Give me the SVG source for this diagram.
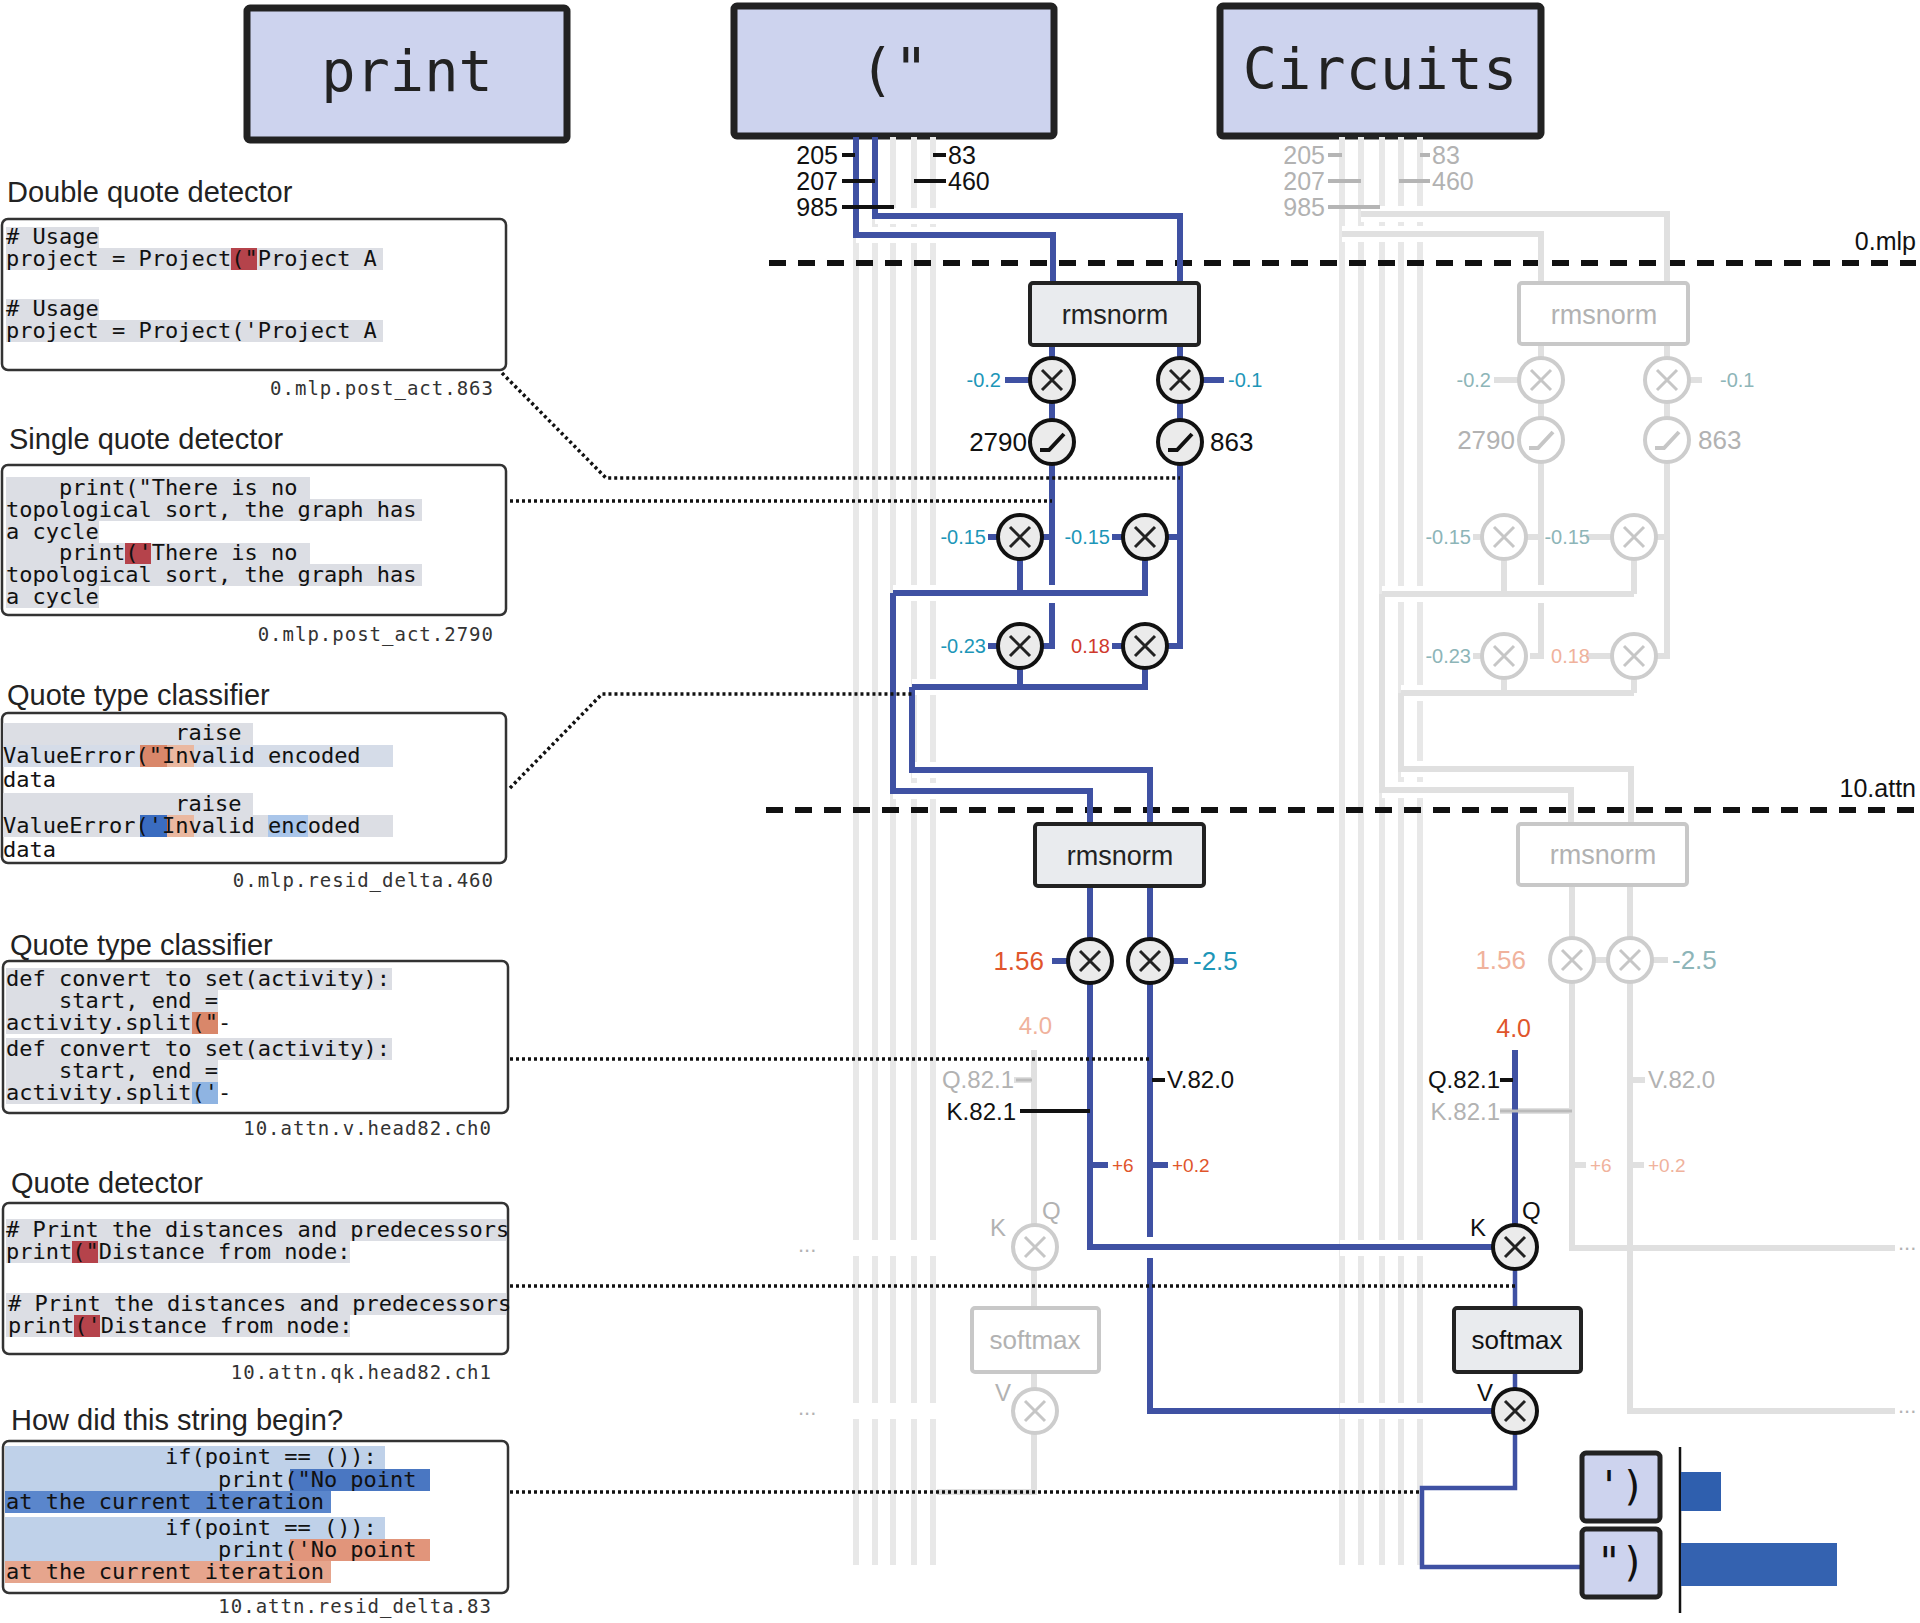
<svg xmlns="http://www.w3.org/2000/svg" width="1920" height="1623" viewBox="0 0 1920 1623">
<style>
.t{font-family:"Liberation Sans",Arial,sans-serif}
.m{font-family:"DejaVu Sans Mono","Liberation Mono",monospace}
.tt{font-family:"Liberation Sans",Arial,sans-serif;font-size:29px;fill:#222}
.code{font-family:"DejaVu Sans Mono",monospace;font-size:22px;fill:#111;white-space:pre}
.lab{font-family:"DejaVu Sans Mono",monospace;font-size:19px;fill:#333;text-anchor:end;letter-spacing:1px}
.panel{fill:#fff;stroke:#333;stroke-width:2.5}
.hg{fill:#dcdee4}
.bun{stroke:#e8e8e8;stroke-width:6;fill:none}
.blue{stroke:#3f51a3;stroke-width:6;fill:none}
.bt{stroke:#3f51a3;stroke-width:4.5;fill:none}
.gr{stroke:#e0e0e0;stroke-width:6;fill:none}
.halo{stroke:#fff;stroke-width:16;fill:none}
.dot{stroke:#111;stroke-width:3.5;stroke-dasharray:3 3;fill:none}
.dash{stroke:#111;stroke-width:6;stroke-dasharray:17 12;fill:none}
.node{fill:#ebebeb;stroke:#111;stroke-width:4}
.nodef{fill:#fff;stroke:#cdcdcd;stroke-width:4}
.x{stroke:#222;stroke-width:3;fill:none}
.xf{stroke:#c6c6c6;stroke-width:3;fill:none}
.box{fill:#e9ebee;stroke:#222;stroke-width:4}
.boxf{fill:#fff;stroke:#c8c8c8;stroke-width:4}
.top{fill:#cdd3ee;stroke:#222;stroke-width:7}
.teal{fill:#1d96b8}.org{fill:#e0552b}.red{fill:#cf3a2c}
.fteal{fill:#8db5b8}.forg{fill:#f0b29c}.fg{fill:#b2b2b2}
</style>

<!-- top token boxes -->
<g id="tok-print"><rect class="top" x="247" y="8" width="320" height="132" rx="3"/><text class="m" x="407" y="91" font-size="57" text-anchor="middle" fill="#222">print</text></g>
<g id="tok-quote"><rect class="top" x="734" y="6" width="320" height="130" rx="3"/><text class="m" x="894" y="89" font-size="57" text-anchor="middle" fill="#222">("</text></g>
<g id="tok-circuits"><rect class="top" x="1220" y="6" width="321" height="130" rx="3"/><text class="m" x="1380" y="89" font-size="57" text-anchor="middle" fill="#222">Circuits</text></g>

<!-- left panels -->
<g id="panel1">
<text class="tt" x="7" y="202">Double quote detector</text>
<rect class="panel" x="2" y="219" width="504" height="151" rx="6"/>
<rect class="hg" x="6" y="227" width="93" height="21"/><rect class="hg" x="6" y="248" width="377" height="22"/>
<rect fill="#b5434b" x="231" y="248" width="26" height="22"/>
<rect class="hg" x="6" y="299" width="93" height="21"/><rect class="hg" x="6" y="320" width="377" height="22"/>
<text class="code" x="6" y="244"># Usage</text><text class="code" x="6" y="266">project = Project("Project A</text>
<text class="code" x="6" y="316"># Usage</text><text class="code" x="6" y="338">project = Project('Project A</text>
<text class="lab" x="494" y="395">0.mlp.post_act.863</text>
</g>
<g id="panel2">
<text class="tt" x="9" y="449">Single quote detector</text>
<rect class="panel" x="2" y="465" width="504" height="150" rx="6"/>
<rect class="hg" x="6" y="477" width="304" height="22"/><rect class="hg" x="6" y="499" width="416" height="22"/><rect class="hg" x="6" y="521" width="93" height="22"/>
<rect class="hg" x="6" y="543" width="304" height="21"/><rect class="hg" x="6" y="564" width="416" height="22"/><rect class="hg" x="6" y="586" width="93" height="22"/>
<rect fill="#b5434b" x="125" y="543" width="26" height="21"/>
<text class="code" x="6" y="495">    print("There is no</text><text class="code" x="6" y="517">topological sort, the graph has</text><text class="code" x="6" y="539">a cycle</text>
<text class="code" x="6" y="560">    print('There is no</text><text class="code" x="6" y="582">topological sort, the graph has</text><text class="code" x="6" y="604">a cycle</text>
<text class="lab" x="494" y="641">0.mlp.post_act.2790</text>
</g>
<g id="panel3">
<text class="tt" x="7" y="705">Quote type classifier</text>
<rect class="panel" x="2" y="713" width="504" height="150" rx="6"/>
<rect class="hg" x="3" y="723" width="250" height="22"/><rect fill="#d5dce8" x="3" y="745" width="390" height="22"/>
<rect fill="#d9876a" x="140" y="745" width="27" height="22"/><rect fill="#eab8a0" x="167" y="745" width="27" height="22"/>
<rect class="hg" x="3" y="793" width="250" height="22"/><rect class="hg" x="3" y="815" width="390" height="22"/>
<rect fill="#3a6cc0" x="140" y="815" width="27" height="22"/><rect fill="#eab8a0" x="167" y="815" width="27" height="22"/><rect fill="#aac6ea" x="268" y="815" width="40" height="22"/>
<text class="code" x="3" y="740">             raise</text><text class="code" x="3" y="763">ValueError("Invalid encoded</text><text class="code" x="3" y="787">data</text>
<text class="code" x="3" y="811">             raise</text><text class="code" x="3" y="833">ValueError('Invalid encoded</text><text class="code" x="3" y="857">data</text>
<text class="lab" x="494" y="887">0.mlp.resid_delta.460</text>
</g>
<g id="panel4">
<text class="tt" x="10" y="955">Quote type classifier</text>
<rect class="panel" x="3" y="961" width="505" height="152" rx="6"/>
<rect class="hg" x="6" y="968" width="386" height="22"/><rect class="hg" x="6" y="990" width="212" height="22"/><rect class="hg" x="6" y="1012" width="212" height="22"/>
<rect fill="#d9876a" x="192" y="1012" width="26" height="22"/>
<rect class="hg" x="6" y="1038" width="386" height="22"/><rect class="hg" x="6" y="1060" width="212" height="22"/><rect class="hg" x="6" y="1082" width="212" height="22"/>
<rect fill="#8fb4e2" x="192" y="1082" width="26" height="22"/>
<text class="code" x="6" y="986">def convert to set(activity):</text><text class="code" x="6" y="1008">    start, end =</text><text class="code" x="6" y="1030">activity.split("-</text>
<text class="code" x="6" y="1056">def convert to set(activity):</text><text class="code" x="6" y="1078">    start, end =</text><text class="code" x="6" y="1100">activity.split('-</text>
<text class="lab" x="492" y="1135">10.attn.v.head82.ch0</text>
</g>
<g id="panel5">
<text class="tt" x="11" y="1193">Quote detector</text>
<rect class="panel" x="3" y="1203" width="505" height="151" rx="6"/>
<rect class="hg" x="6" y="1219" width="500" height="22"/><rect class="hg" x="6" y="1241" width="344" height="22"/>
<rect class="hg" x="6" y="1293" width="500" height="22"/><rect class="hg" x="6" y="1315" width="344" height="22"/>
<rect fill="#b5434b" x="72" y="1241" width="26" height="22"/><rect fill="#b5434b" x="74" y="1315" width="26" height="22"/>
<text class="code" x="6" y="1237"># Print the distances and predecessors</text><text class="code" x="6" y="1259">print("Distance from node:</text>
<text class="code" x="8" y="1311"># Print the distances and predecessors</text><text class="code" x="8" y="1333">print('Distance from node:</text>
<text class="lab" x="492" y="1379">10.attn.qk.head82.ch1</text>
</g>
<g id="panel6">
<text class="tt" x="11" y="1430">How did this string begin?</text>
<rect class="panel" x="3" y="1441" width="505" height="152" rx="6"/>
<rect fill="#bfd1e9" x="5" y="1446" width="380" height="23"/><rect fill="#bfd1e9" x="5" y="1469" width="286" height="22"/>
<rect fill="#4a77c2" x="290" y="1469" width="140" height="22"/><rect fill="#5a86cc" x="5" y="1491" width="326" height="22"/>
<rect fill="#bfd1e9" x="5" y="1517" width="380" height="22"/><rect fill="#bfd1e9" x="5" y="1539" width="286" height="22"/>
<rect fill="#e1957b" x="290" y="1539" width="140" height="22"/><rect fill="#e6a58d" x="5" y="1561" width="326" height="22"/>
<text class="code" x="6" y="1464">            if(point == ()):</text><text class="code" x="6" y="1487">                print("No point</text><text class="code" x="6" y="1509">at the current iteration</text>
<text class="code" x="6" y="1535">            if(point == ()):</text><text class="code" x="6" y="1557">                print('No point</text><text class="code" x="6" y="1579">at the current iteration</text>
<text class="lab" x="492" y="1613">10.attn.resid_delta.83</text>
</g>

<!-- connectors -->
<g id="connectors">
<path class="bun" d="M856 137V1565M875 137V1565M893 137V1565M914 137V1565M933 137V1565"/>
<path class="bun" d="M1342 137V1565M1361 137V1565M1382 137V1565M1401 137V1565M1420 137V1565"/>
<path class="dash" d="M769 263H1916M766 810H1916"/>
<text class="t" x="1916" y="250" font-size="25" text-anchor="end" fill="#111">0.mlp</text>
<text class="t" x="1916" y="797" font-size="25" text-anchor="end" fill="#111">10.attn</text>

<!-- faded circuit -->
<path class="halo" d="M1361 214H1667M1342 234H1541M1382 594H1634M1401 693H1634M1401 769H1631M1382 790H1571M1340 1248H1560M1340 1411H1560"/>
<path class="gr" d="M1342 234H1541V283M1361 214H1667V283"/>
<path class="gr" d="M1541 344V585M1541 603V656H1530M1667 344V656H1657M1527 537H1541M1657 537H1667"/>
<path class="gr" d="M1504 560V594M1634 560V594M1382 594H1634M1382 594V790H1571V824"/>
<path class="gr" d="M1504 679V693M1634 679V693M1401 693H1634M1401 693V769H1631V824"/>
<path class="gr" d="M1572 885V1248H1895M1630 885V1411H1895M1500 1111H1572M1632 1080H1645M1572 1165H1586M1630 1165H1644M1608 960H1594M1652 960H1668"/>
<path class="gr" d="M1034 1050V1225M1034 1269V1308M1034 1372V1389M1034 1433V1492H937M824 1248H1013M824 1411H1013M1014 1080H1034"/>
<path class="gr" d="M1494 380H1519M1689 380H1702M1473 537H1482M1586 537H1612M1473 656H1482M1586 656H1612"/>
<g class="t fg" font-size="25"><text x="1325" y="164" text-anchor="end">205</text><text x="1325" y="190" text-anchor="end">207</text><text x="1325" y="216" text-anchor="end">985</text><text x="1432" y="164">83</text><text x="1432" y="190">460</text></g>
<path stroke="#b5b5b5" stroke-width="4" d="M1328 155H1342M1328 181H1361M1328 207H1380M1420 155H1430M1399 181H1430"/>

<!-- main blue circuit -->
<path class="halo" d="M856 235H1053M875 216H1180M893 593H1146M912 687H1145M912 770H1150M893 791H1090M820 1248H1013M820 1411H1013"/>
<path class="blue" d="M856 137V235H1053V283M875 137V216H1180V283"/>
<path class="blue" d="M1052 345V585M1052 603V646H1041M1180 345V646H1167M1041 537H1052M1167 537H1180"/>
<path class="blue" d="M1020 560V593M1145 560V593M893 593H1148M893 593V791H1090V824"/>
<path class="blue" d="M1020 669V687M1145 669V687M912 687H1148M912 687V770H1150V824"/>
<path class="blue" d="M1005 380H1029M1203 380H1224M988 537H998M1112 537H1123M988 646H998M1112 646H1123"/>
<path class="blue" d="M1090 886V1247H1493M1150 886V1237M1150 1258V1411H1493M1052 961H1067M1173 961H1188M1090 1165H1108M1150 1165H1168"/>
<path class="blue" d="M1515 1050V1225"/>
<path class="bt" d="M1515 1269V1308M1515 1372V1389M1515 1433V1488H1422V1567H1584"/>
<path stroke="#111" stroke-width="4" d="M842 155H855M842 181H875M842 207H894M933 155H946M914 181H946M1020 1111H1090M1152 1080H1165M1500 1080H1513"/>
<path stroke="#bbb" stroke-width="3" d="M1500 1111H1572M1016 1080H1032"/>

<path class="dot" d="M502 373L606 478H1180M510 501H1052M510 788L602 694H912M510 1059H1150M510 1286H1515M510 1492H1420"/>
<text class="t fg" x="798" y="1252" font-size="22">...</text><text class="t fg" x="798" y="1415" font-size="22">...</text>
<text class="t fg" x="1898" y="1250" font-size="22">...</text><text class="t fg" x="1898" y="1413" font-size="22">...</text>
</g>

<g id="labels-top" class="t" font-size="25" fill="#111"><text x="838" y="164" text-anchor="end">205</text><text x="838" y="190" text-anchor="end">207</text><text x="838" y="216" text-anchor="end">985</text><text x="948" y="164">83</text><text x="948" y="190">460</text></g>

<!-- main nodes -->
<g id="rmsnorm1"><rect class="box" x="1030" y="283" width="169" height="62" rx="3"/><text class="t" x="1115" y="324" font-size="27" text-anchor="middle" fill="#222">rmsnorm</text></g>
<g id="m1"><circle class="node" cx="1052" cy="380" r="22"/><path class="x" d="M1042 370L1062 390M1062 370L1042 390"/><text class="t teal" x="1001" y="387" font-size="20" text-anchor="end">-0.2</text></g>
<g id="m2"><circle class="node" cx="1180" cy="380" r="22"/><path class="x" d="M1170 370L1190 390M1190 370L1170 390"/><text class="t teal" x="1228" y="387" font-size="20">-0.1</text></g>
<g id="relu2790"><circle class="node" cx="1052" cy="442" r="22"/><path stroke="#111" stroke-width="4" fill="none" d="M1040 450H1049L1064 434"/><text class="t" x="1027" y="451" font-size="26" text-anchor="end" fill="#111">2790</text></g>
<g id="relu863"><circle class="node" cx="1180" cy="442" r="22"/><path stroke="#111" stroke-width="4" fill="none" d="M1168 450H1177L1192 434"/><text class="t" x="1210" y="451" font-size="26" fill="#111">863</text></g>
<g id="m3"><circle class="node" cx="1020" cy="537" r="22"/><path class="x" d="M1010 527L1030 547M1030 527L1010 547"/><text class="t teal" x="986" y="544" font-size="20" text-anchor="end">-0.15</text></g>
<g id="m4"><circle class="node" cx="1145" cy="537" r="22"/><path class="x" d="M1135 527L1155 547M1155 527L1135 547"/><text class="t teal" x="1110" y="544" font-size="20" text-anchor="end">-0.15</text></g>
<g id="m5"><circle class="node" cx="1020" cy="646" r="22"/><path class="x" d="M1010 636L1030 656M1030 636L1010 656"/><text class="t teal" x="986" y="653" font-size="20" text-anchor="end">-0.23</text></g>
<g id="m6"><circle class="node" cx="1145" cy="646" r="22"/><path class="x" d="M1135 636L1155 656M1155 636L1135 656"/><text class="t red" x="1110" y="653" font-size="20" text-anchor="end">0.18</text></g>

<g id="rmsnorm2"><rect class="box" x="1035" y="824" width="169" height="62" rx="3"/><text class="t" x="1120" y="865" font-size="27" text-anchor="middle" fill="#222">rmsnorm</text></g>
<g id="m7"><circle class="node" cx="1090" cy="961" r="22"/><path class="x" d="M1080 951L1100 971M1100 951L1080 971"/><text class="t org" x="1044" y="970" font-size="26" text-anchor="end">1.56</text></g>
<g id="m8"><circle class="node" cx="1150" cy="961" r="22"/><path class="x" d="M1140 951L1160 971M1160 951L1140 971"/><text class="t teal" x="1193" y="970" font-size="26">-2.5</text></g>
<g id="attn-labels" class="t" font-size="24">
<text class="forg" x="1052" y="1034" text-anchor="end">4.0</text>
<text class="fg" x="1014" y="1088" text-anchor="end">Q.82.1</text>
<text fill="#111" x="1016" y="1120" text-anchor="end">K.82.1</text>
<text fill="#111" x="1167" y="1088">V.82.0</text>
<text class="org" x="1112" y="1172" font-size="19">+6</text>
<text class="org" x="1172" y="1172" font-size="19">+0.2</text>
<text class="org" x="1531" y="1037" text-anchor="end" font-size="25">4.0</text>
<text fill="#111" x="1500" y="1088" text-anchor="end">Q.82.1</text>
<text class="fg" x="1500" y="1120" text-anchor="end">K.82.1</text>
</g>
<g id="qk-faded"><circle class="nodef" cx="1035" cy="1247" r="22"/><path class="xf" d="M1025 1237L1045 1257M1045 1237L1025 1257"/><text class="t fg" x="990" y="1236" font-size="24">K</text><text class="t fg" x="1042" y="1219" font-size="24">Q</text></g>
<g id="softmax-faded"><rect class="boxf" x="972" y="1308" width="127" height="64" rx="3"/><text class="t fg" x="1035" y="1349" font-size="26" text-anchor="middle">softmax</text></g>
<g id="v-faded"><circle class="nodef" cx="1035" cy="1411" r="22"/><path class="xf" d="M1025 1401L1045 1421M1045 1401L1025 1421"/><text class="t fg" x="995" y="1401" font-size="24">V</text></g>
<g id="qk"><circle class="node" cx="1515" cy="1247" r="22"/><path class="x" d="M1505 1237L1525 1257M1525 1237L1505 1257"/><text class="t" x="1470" y="1236" font-size="24" fill="#111">K</text><text class="t" x="1522" y="1219" font-size="24" fill="#111">Q</text></g>
<g id="softmax"><rect class="box" x="1454" y="1308" width="127" height="64" rx="3"/><text class="t" x="1517" y="1349" font-size="26" text-anchor="middle" fill="#111">softmax</text></g>
<g id="v"><circle class="node" cx="1515" cy="1411" r="22"/><path class="x" d="M1505 1401L1525 1421M1525 1401L1505 1421"/><text class="t" x="1477" y="1401" font-size="24" fill="#111">V</text></g>

<!-- faded nodes -->
<g id="rmsnorm1-f"><rect class="boxf" x="1519" y="283" width="169" height="61" rx="3"/><text class="t fg" x="1604" y="324" font-size="27" text-anchor="middle">rmsnorm</text></g>
<g id="f-m1"><circle class="nodef" cx="1541" cy="380" r="22"/><path class="xf" d="M1531 370L1551 390M1551 370L1531 390"/><text class="t fteal" x="1491" y="387" font-size="20" text-anchor="end">-0.2</text></g>
<g id="f-m2"><circle class="nodef" cx="1667" cy="380" r="22"/><path class="xf" d="M1657 370L1677 390M1677 370L1657 390"/><text class="t fteal" x="1720" y="387" font-size="20">-0.1</text></g>
<g id="f-relu1"><circle class="nodef" cx="1541" cy="440" r="22"/><path stroke="#c6c6c6" stroke-width="4" fill="none" d="M1529 448H1538L1553 432"/><text class="t fg" x="1515" y="449" font-size="26" text-anchor="end">2790</text></g>
<g id="f-relu2"><circle class="nodef" cx="1667" cy="440" r="22"/><path stroke="#c6c6c6" stroke-width="4" fill="none" d="M1655 448H1664L1679 432"/><text class="t fg" x="1698" y="449" font-size="26">863</text></g>
<g id="f-m3"><circle class="nodef" cx="1504" cy="537" r="22"/><path class="xf" d="M1494 527L1514 547M1514 527L1494 547"/><text class="t fteal" x="1471" y="544" font-size="20" text-anchor="end">-0.15</text></g>
<g id="f-m4"><circle class="nodef" cx="1634" cy="537" r="22"/><path class="xf" d="M1624 527L1644 547M1644 527L1624 547"/><text class="t fteal" x="1590" y="544" font-size="20" text-anchor="end">-0.15</text></g>
<g id="f-m5"><circle class="nodef" cx="1504" cy="656" r="22"/><path class="xf" d="M1494 646L1514 666M1514 646L1494 666"/><text class="t fteal" x="1471" y="663" font-size="20" text-anchor="end">-0.23</text></g>
<g id="f-m6"><circle class="nodef" cx="1634" cy="656" r="22"/><path class="xf" d="M1624 646L1644 666M1644 646L1624 666"/><text class="t forg" x="1590" y="663" font-size="20" text-anchor="end">0.18</text></g>
<g id="rmsnorm2-f"><rect class="boxf" x="1518" y="824" width="169" height="61" rx="3"/><text class="t fg" x="1603" y="864" font-size="27" text-anchor="middle">rmsnorm</text></g>
<g id="f-m7"><circle class="nodef" cx="1572" cy="960" r="22"/><path class="xf" d="M1562 950L1582 970M1582 950L1562 970"/><text class="t forg" x="1526" y="969" font-size="26" text-anchor="end">1.56</text></g>
<g id="f-m8"><circle class="nodef" cx="1630" cy="960" r="22"/><path class="xf" d="M1620 950L1640 970M1640 950L1620 970"/><text class="t fteal" x="1672" y="969" font-size="26">-2.5</text></g>
<g id="f-labels" class="t" font-size="24"><text class="fg" x="1648" y="1088">V.82.0</text><text class="forg" x="1590" y="1172" font-size="19">+6</text><text class="forg" x="1648" y="1172" font-size="19">+0.2</text></g>

<!-- outputs -->
<g id="out-single"><rect fill="#cdd3ee" stroke="#222" stroke-width="5" x="1582" y="1453" width="78" height="68" rx="4"/><text class="m" x="1621" y="1500" font-size="40" text-anchor="middle" fill="#111">')</text></g>
<g id="out-double"><rect fill="#cdd3ee" stroke="#222" stroke-width="5" x="1582" y="1529" width="78" height="68" rx="4"/><text class="m" x="1621" y="1576" font-size="40" text-anchor="middle" fill="#111">")</text></g>
<g id="bars"><path stroke="#111" stroke-width="2.5" d="M1680 1447V1613"/><rect fill="#2f5fae" x="1681" y="1472" width="40" height="39"/><rect fill="#3462b0" x="1681" y="1543" width="156" height="43"/></g>
</svg>
